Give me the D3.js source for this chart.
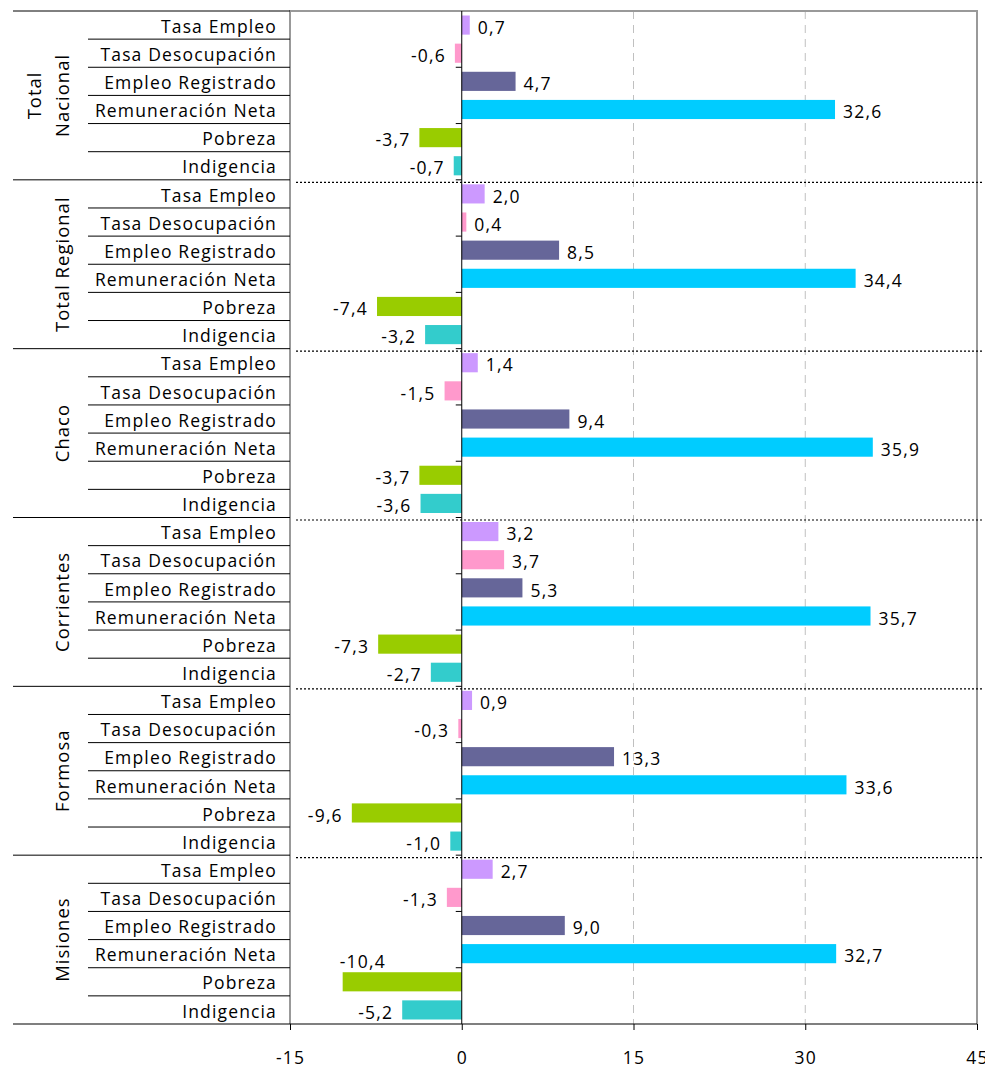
<!DOCTYPE html>
<html>
<head>
<meta charset="utf-8">
<script src="https://cdn.jsdelivr.net/npm/d3@7"></script>
<style>
  body { margin: 0; background: #fff; }
  text { font-family: 'Open Sans', sans-serif; fill: #000; }
</style>
</head>
<body>
<div id="chart"></div>
<script>
// indicators, in the order they appear inside each group
const indicators = [
  'Tasa Empleo',
  'Tasa Desocupación',
  'Empleo Registrado',
  'Remuneración Neta',
  'Pobreza',
  'Indigencia',
];
const indicatorColors = ['#CC99FF', '#FF99CC', '#666699', '#00CCFF', '#99CC00', '#33CCCC'];

const groupLabels = [['Total', 'Nacional'], ['Total Regional'], ['Chaco'], ['Corrientes'], ['Formosa'], ['Misiones']];

// values per group (same order as indicators)
const totalNacional = [0.7, -0.6, 4.7, 32.6, -3.7, -0.7];
const totalRegional = [2.0, 0.4, 8.5, 34.4, -7.4, -3.2];
const chaco = [1.4, -1.5, 9.4, 35.9, -3.7, -3.6];
const corrientes = [3.2, 3.7, 5.3, 35.7, -7.3, -2.7];
const formosa = [0.9, -0.3, 13.3, 33.6, -9.6, -1.0];
const misiones = [2.7, -1.3, 9.0, 32.7, -10.4, -5.2];

const xTicks = [-15, 0, 15, 30, 45];

const groupValues = [totalNacional, totalRegional, chaco, corrientes, formosa, misiones];

// flatten into rows
const rows = [];
groupValues.forEach((vals, g) => {
  vals.forEach((v, i) => {
    rows.push({ key: g + '-' + i, group: g, index: i, name: indicators[i], value: v });
  });
});

// dimensions
const w = 985;
const h = 1069;
const plotLeft = 290;
const plotRight = 977;
const plotTop = 11;
const plotBottom = 1024;
const labelAreaLeft = 13;
const rowLineLeft = 88;

const locale = d3.formatLocale({
  decimal: ',',
  thousands: '.',
  grouping: [3],
  currency: ['$', ''],
  minus: '-',
});
const fmt = locale.format('.1f');

const xScale = d3.scaleLinear().domain([-15, 45]).range([plotLeft, plotRight]);

const yScale = d3
  .scaleBand()
  .domain(rows.map((d) => d.key))
  .range([plotTop, plotBottom])
  .paddingInner(0.32)
  .paddingOuter(0.16);

const rowH = (plotBottom - plotTop) / rows.length;
const groupH = rowH * indicators.length;

const svg = d3.select('#chart').append('svg').attr('width', w).attr('height', h);

svg.append('rect').attr('width', w).attr('height', h).attr('fill', '#fff');

// gridlines
svg
  .append('g')
  .selectAll('line')
  .data([15, 30])
  .enter()
  .append('line')
  .attr('x1', (d) => xScale(d))
  .attr('x2', (d) => xScale(d))
  .attr('y1', plotTop)
  .attr('y2', plotBottom)
  .attr('stroke', '#c0c0c0')
  .attr('stroke-width', 1)
  .attr('stroke-dasharray', '8,6');

// plot frame (top, right, left)
svg
  .append('path')
  .attr('d', `M${plotLeft},${plotBottom} V${plotTop} H${plotRight} V${plotBottom}`)
  .attr('fill', 'none')
  .attr('stroke', '#999')
  .attr('stroke-width', 2);

// group separators inside the plot (dotted)
const groupBounds = d3.range(1, groupLabels.length).map((g) => plotTop + g * groupH);
svg
  .append('g')
  .selectAll('line')
  .data(groupBounds)
  .enter()
  .append('line')
  .attr('x1', plotLeft + 6)
  .attr('x2', w - 2)
  .attr('y1', (d) => d + 2.5)
  .attr('y2', (d) => d + 2.5)
  .attr('stroke', '#000')
  .attr('stroke-width', 1.2)
  .attr('stroke-dasharray', '2,2');

// bars
svg
  .append('g')
  .selectAll('rect')
  .data(rows)
  .enter()
  .append('rect')
  .attr('x', (d) => xScale(Math.min(0, d.value)))
  .attr('y', (d) => yScale(d.key))
  .attr('width', (d) => Math.abs(xScale(d.value) - xScale(0)))
  .attr('height', yScale.bandwidth())
  .attr('fill', (d) => indicatorColors[d.index]);

// zero axis with minor ticks every two rows
svg
  .append('line')
  .attr('x1', xScale(0))
  .attr('x2', xScale(0))
  .attr('y1', plotTop)
  .attr('y2', plotBottom)
  .attr('stroke', '#000')
  .attr('stroke-width', 1);

svg
  .append('g')
  .selectAll('line')
  .data(d3.range(2, rows.length, 2))
  .enter()
  .append('line')
  .attr('x1', xScale(0) - 6)
  .attr('x2', xScale(0))
  .attr('y1', (d) => plotTop + d * rowH)
  .attr('y2', (d) => plotTop + d * rowH)
  .attr('stroke', '#000');

// value labels
svg
  .append('g')
  .selectAll('text')
  .data(rows)
  .enter()
  .append('text')
  .attr('font-size', 17.5)
  .attr('letter-spacing', 1.2)
  .attr('dominant-baseline', 'middle')
  .each(function (d) {
    const t = d3.select(this).text(fmt(d.value));
    const cy = yScale(d.key) + yScale.bandwidth() / 2 + 4;
    if (d.value >= 0) {
      t.attr('x', xScale(d.value) + 8).attr('y', cy).attr('text-anchor', 'start');
    } else {
      const x = xScale(d.value) - 9;
      const tw = this.getComputedTextLength();
      if (x - tw < plotLeft + 4) {
        // not enough room left of the bar: put it above
        t.attr('x', xScale(d.value) - 3).attr('y', cy - 22).attr('text-anchor', 'start');
      } else {
        t.attr('x', x).attr('y', cy).attr('text-anchor', 'end');
      }
    }
  });

// category area lines
const labelG = svg.append('g');
labelG
  .selectAll('line.row')
  .data(d3.range(1, rows.length).filter((i) => i % indicators.length !== 0))
  .enter()
  .append('line')
  .attr('class', 'row')
  .attr('x1', rowLineLeft)
  .attr('x2', plotLeft)
  .attr('y1', (i) => plotTop + i * rowH)
  .attr('y2', (i) => plotTop + i * rowH)
  .attr('stroke', '#000');

labelG
  .selectAll('line.grp')
  .data(d3.range(0, groupLabels.length))
  .enter()
  .append('line')
  .attr('class', 'grp')
  .attr('x1', labelAreaLeft)
  .attr('x2', plotLeft)
  .attr('y1', (g) => plotTop + g * groupH)
  .attr('y2', (g) => plotTop + g * groupH)
  .attr('stroke', '#000');

// category labels
labelG
  .selectAll('text.cat')
  .data(rows)
  .enter()
  .append('text')
  .attr('class', 'cat')
  .attr('x', 277)
  .attr('y', (d) => yScale(d.key) + yScale.bandwidth() / 2 + 3)
  .attr('text-anchor', 'end')
  .attr('dominant-baseline', 'middle')
  .attr('font-size', 17.5)
  .attr('letter-spacing', 1.15)
  .text((d) => d.name);

// group labels (rotated)
groupLabels.forEach((lines, g) => {
  const cy = plotTop + g * groupH + groupH / 2;
  lines.forEach((line, li) => {
    const cx = lines.length === 1 ? 64 : 36 + li * 28;
    labelG
      .append('text')
      .attr('transform', `translate(${cx},${cy}) rotate(-90)`)
      .attr('text-anchor', 'middle')
      .attr('dominant-baseline', 'middle')
      .attr('font-size', 18.5)
      .attr('letter-spacing', 1.0)
      .text(line);
  });
});

// bottom axis
const xAxis = d3
  .axisBottom(xScale)
  .tickValues(xTicks)
  .tickFormat((d) => fmt(d).replace(',0', ''))
  .tickSize(6)
  .tickSizeOuter(0);

const axisG = svg
  .append('g')
  .attr('transform', `translate(0,${plotBottom})`)
  .call(xAxis);
axisG.select('.domain').remove();
axisG.selectAll('.tick line').attr('stroke', '#000');
axisG
  .selectAll('.tick text')
  .attr('font-family', "'Open Sans', sans-serif")
  .attr('font-size', 17.5)
  .attr('letter-spacing', 1.2)
  .attr('y', 28)
  .attr('fill', '#000');

svg
  .append('line')
  .attr('x1', labelAreaLeft)
  .attr('x2', plotRight)
  .attr('y1', plotBottom)
  .attr('y2', plotBottom)
  .attr('stroke', '#000')
  .attr('stroke-width', 1.2);
</script>
</body>
</html>
